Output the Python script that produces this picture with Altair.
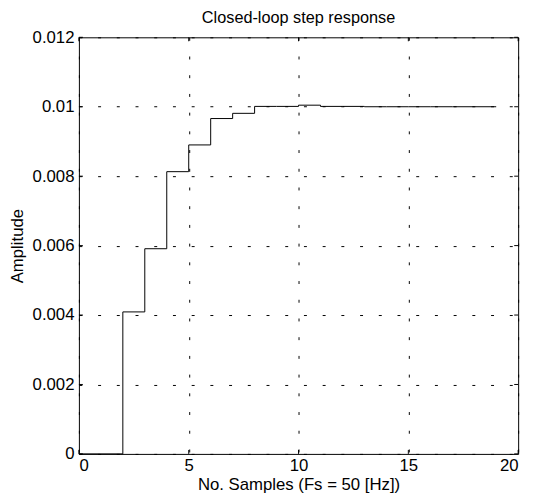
import altair as alt
import pandas as pd

samples = list(range(20))
amplitude = [0, 0, 0.00409, 0.00591, 0.00813, 0.0089, 0.00966, 0.00981,
             0.01001, 0.01001, 0.010045, 0.01001, 0.01001, 0.01, 0.01, 0.01,
             0.01, 0.01, 0.01, 0.01]
x_ticks = [0, 5, 10, 15, 20]
y_ticks = [0, 0.002, 0.004, 0.006, 0.008, 0.01, 0.012]

W, H = 446, 423
FONT = "Liberation Sans"

df = pd.DataFrame({"x": samples, "y": amplitude})
xt = pd.DataFrame({"v": x_ticks})
yt = pd.DataFrame({"v": y_ticks})

xs = alt.Scale(domain=[0, 20], nice=False, zero=False)
ys = alt.Scale(domain=[0, 0.012], nice=False, zero=False)

line = alt.Chart(df).mark_line(interpolate="step-after", color="black", strokeWidth=1).encode(
    x=alt.X("x:Q", scale=xs, title="No. Samples (Fs = 50 [Hz])",
            axis=alt.Axis(values=x_ticks, grid=True, ticks=False, tickSize=0, domain=False,
                          labelPadding=4, titlePadding=3, gridDash=[3, 16], gridColor="black",
                          gridOpacity=1)),
    y=alt.Y("y:Q", scale=ys, title="Amplitude",
            axis=alt.Axis(values=y_ticks, grid=True, ticks=False, tickSize=0, domain=False,
                          format=".3~f", labelPadding=5, titlePadding=6, gridDash=[3, 16],
                          gridColor="black", gridOpacity=1)),
)

L = 4
left_t = alt.Chart(yt).mark_rule(color="black", strokeWidth=1).encode(
    y=alt.Y("v:Q", scale=ys), x=alt.value(0), x2=alt.value(L))
right_t = alt.Chart(yt).mark_rule(color="black", strokeWidth=1).encode(
    y=alt.Y("v:Q", scale=ys), x=alt.value(W - L), x2=alt.value(W))
bot_t = alt.Chart(xt).mark_rule(color="black", strokeWidth=1).encode(
    x=alt.X("v:Q", scale=xs), y=alt.value(H - L), y2=alt.value(H))
top_t = alt.Chart(xt).mark_rule(color="black", strokeWidth=1).encode(
    x=alt.X("v:Q", scale=xs), y=alt.value(0), y2=alt.value(L))

chart = alt.layer(line, left_t, right_t, bot_t, top_t).properties(
    width=W, height=H,
    background="white",
    title=alt.TitleParams("Closed-loop step response", fontSize=16.5, font=FONT,
                          fontWeight="normal", color="black", offset=2),
    autosize=alt.AutoSizeParams(type="none"),
    padding={"left": 72, "top": 26, "right": 10, "bottom": 40},
).configure_view(stroke="black", strokeWidth=1).configure_axis(
    labelFont=FONT, labelFontSize=17, labelColor="black",
    titleFont=FONT, titleFontSize=17, titleColor="black", titleFontWeight="normal",
)

chart.save("out.html", embed_options={"renderer": "svg", "actions": False})
